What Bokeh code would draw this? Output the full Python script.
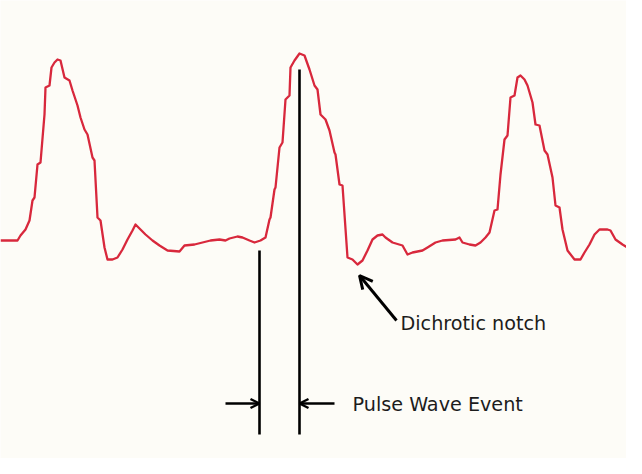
from bokeh.plotting import figure
from bokeh.models import Range1d, Arrow, OpenHead, ColumnDataSource, Label
from bokeh.embed import file_html
from bokeh.resources import INLINE

# Pulse waveform samples (time units, signal units; signal axis points downward)
time = [8, 25, 28, 33, 37, 40, 42, 45, 48, 52, 53, 57, 59, 62, 65, 68, 72, 77, 80, 85,
        88, 92, 95, 100, 102, 105, 108, 112, 115, 120, 125, 130, 135, 140, 143, 148, 153,
        160, 167, 175, 187, 192, 202, 210, 218, 227, 233, 237, 245, 250, 257, 262, 268,
        273, 277, 278, 282, 283, 287, 290, 293, 297, 298, 302, 307, 312, 317, 322, 325,
        328, 333, 337, 342, 343, 347, 350, 355, 360, 365, 370, 375, 380, 385, 390, 393,
        400, 410, 415, 420, 430, 435, 443, 450, 463, 467, 470, 477, 483, 488, 493, 497,
        502, 505, 508, 512, 515, 518, 522, 525, 528, 532, 535, 540, 543, 547, 552, 555,
        560, 563, 567, 570, 575, 582, 588, 592, 597, 602, 607, 615, 618, 623, 630, 635, 642]
signal = [248, 248, 243, 237, 228, 208, 205, 172, 170, 122, 95, 93, 75, 70, 67, 68, 85, 88, 98, 113,
          125, 137, 142, 165, 168, 225, 228, 255, 267, 267, 265, 257, 247, 238, 232, 237, 242,
          248, 253, 258, 259, 253, 252, 250, 248, 247, 248, 246, 244, 245, 248, 250, 248,
          245, 227, 225, 197, 195, 155, 150, 107, 103, 75, 68, 61, 63, 77, 93, 97,
          122, 127, 138, 160, 162, 192, 193, 265, 267, 272, 268, 258, 247, 243, 242, 245,
          250, 253, 262, 260, 258, 255, 250, 248, 247, 245, 250, 252, 253, 250, 245, 240,
          218, 217, 182, 147, 143, 105, 103, 85, 83, 87, 93, 110, 132, 133, 158, 162,
          185, 213, 215, 237, 258, 267, 267, 260, 252, 242, 237, 237, 238, 247, 252, 255, 262]

# Annotation anchors
onset_t = 267
peak_t = 307
marker_bottom = 442
onset_top = 258
peak_top = 77
event_arrow_y = 411
left_arrow_from = 233
right_arrow_from = 342
notch_tip_t, notch_tip_s = 367, 283
notch_tail_t, notch_tail_s = 404, 328
notch_label = "Dichrotic notch"
notch_label_t, notch_label_s = 408, 331
event_label = "Pulse Wave Event"
event_label_t, event_label_s = 360, 412

BG = "#fdfcf7"

p = figure(width=626, height=458, output_backend="svg", toolbar_location=None,
           x_axis_type=None, y_axis_type=None,
           x_range=Range1d(8, 634), y_range=Range1d(466, 8),
           min_border=0, background_fill_color=BG, border_fill_color=BG,
           outline_line_color=None)
p.grid.visible = False

src = ColumnDataSource(dict(t=time, s=signal))
p.line("t", "s", source=src, line_color="#d8283c", line_width=2.3, line_join="round")

# vertical marker lines
p.segment(x0=[onset_t, peak_t], y0=[onset_top, peak_top],
          x1=[onset_t, peak_t], y1=[marker_bottom, marker_bottom],
          line_color="black", line_width=2.6)

# horizontal arrows
p.add_layout(Arrow(end=OpenHead(size=9, line_width=2.4, line_color="black"),
                   x_start=left_arrow_from, y_start=event_arrow_y,
                   x_end=onset_t, y_end=event_arrow_y,
                   line_color="black", line_width=2.4))
p.add_layout(Arrow(end=OpenHead(size=9, line_width=2.4, line_color="black"),
                   x_start=right_arrow_from, y_start=event_arrow_y,
                   x_end=peak_t, y_end=event_arrow_y,
                   line_color="black", line_width=2.4))

# notch arrow
p.add_layout(Arrow(end=OpenHead(size=13, line_width=3, line_color="black"),
                   x_start=notch_tail_t, y_start=notch_tail_s,
                   x_end=notch_tip_t, y_end=notch_tip_s,
                   line_color="black", line_width=3))

p.add_layout(Label(x=notch_label_t, y=notch_label_s, text=notch_label,
                   text_font="DejaVu Sans", text_font_size="19.2px",
                   text_baseline="middle", text_color="#1c1c1c"))
p.add_layout(Label(x=event_label_t, y=event_label_s, text=event_label,
                   text_font="DejaVu Sans", text_font_size="19.2px",
                   text_baseline="middle", text_color="#1c1c1c"))

open("out.html", "w").write(file_html(p, INLINE))
